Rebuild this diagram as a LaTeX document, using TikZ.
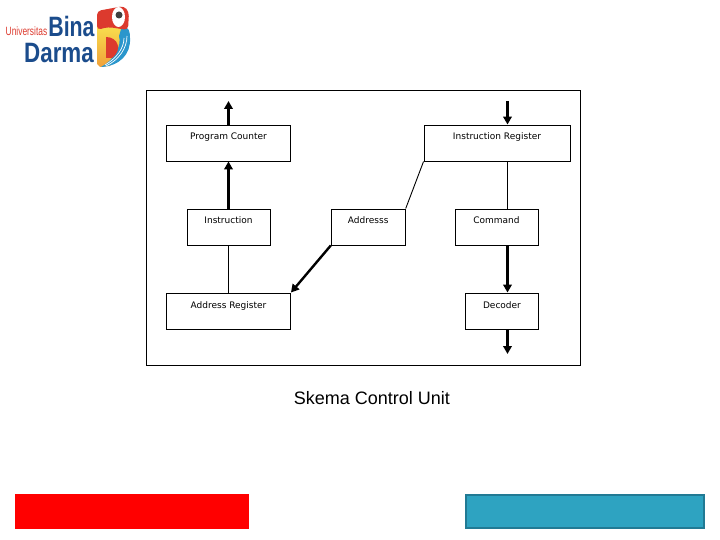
\documentclass[tikz,border=0pt]{standalone}
\usepackage{fontspec}
\setmainfont{DejaVu Sans}
\newfontfamily\capfont{Liberation Sans}
\usetikzlibrary{arrows.meta}
\definecolor{logoblue}{HTML}{1B4C8C}
\definecolor{logored}{HTML}{DC3A2E}
\definecolor{logoyel}{HTML}{F8E04E}
\definecolor{logoorg}{HTML}{F0A03A}
\definecolor{logosky}{HTML}{2A96CC}
\definecolor{barblue}{HTML}{2EA3C1}
\definecolor{barline}{HTML}{217A94}
\tikzset{
  box/.style={draw,line width=.9pt,inner xsep=0pt,inner ysep=0pt,text height=15pt,text depth=21pt,font=\fontsize{9}{10}\selectfont},
  plain line/.style={line width=.9pt},
  flow/.style={line width=2.4pt,-{Triangle[length=8pt,width=8.5pt]}},
  logotext/.style={text=logoblue,inner sep=0pt,font=\capfont\bfseries\fontsize{28}{29}\selectfont},
}
\begin{document}
\begin{tikzpicture}[x=1pt,y=-1pt]
  \useasboundingbox (0,0) rectangle (720,540);
  % logo
  \shade[top color=logoyel,bottom color=logoorg] (97,25) -- (127,25) -- (126,40) -- (110,66) -- (100,67) -- (97,64) -- cycle;
  \fill[logosky] (122,26) .. controls (129,27) and (130,31) .. (130,38) .. controls (131,54) and (120,66) .. (101,67) .. controls (114,60) and (122,46) .. (119,36) -- cycle;
  \draw[white,line width=.7pt] (127,36) .. controls (127,48) and (119,60) .. (106,66);
  \draw[white,line width=.7pt] (124,38) .. controls (124,48) and (117,58) .. (105,65);
  \fill[logored,rounded corners=4pt] (97,30) -- (97,11) -- (124,6) -- (129,12) -- (128,30) -- (108,27) -- cycle;
  \fill[white] (118.5,17) ellipse (6.5pt and 10pt);
  \fill[black!75] (119,15) circle (3.5pt);
  \fill[logored] (106,37) .. controls (118,37) and (123,50) .. (112,58) -- (106,58) -- cycle;
  \node[text=logored,inner sep=0pt,font=\capfont\fontsize{12}{13}\selectfont] (univ) at (26.5,31) {\scalebox{.7}[1]{Universitas}};
  \node[logotext] (bina) at (71.5,26) {\scalebox{.76}[1]{Bina}};
  \node[logotext] (darma) at (59,53) {\scalebox{.8}[1]{Darma}};
  % diagram
  \node[draw,line width=.9pt,minimum width=433.5pt,minimum height=275pt,inner sep=0pt] (frame) at (363.25,228) {};
  \node[box,minimum width=124pt] (pc) at (228.5,143) {Program Counter};
  \node[box,minimum width=146pt] (ir) at (497,143) {Instruction Register};
  \node[box,minimum width=83pt] (instr) at (228.5,227) {Instruction};
  \node[box,minimum width=74pt] (addr) at (368.25,227) {Addresss};
  \node[box,minimum width=83pt] (cmd) at (496.5,227) {Command};
  \node[box,minimum width=124pt] (areg) at (228.5,311) {Address Register};
  \node[box,minimum width=73pt] (dec) at (502,311) {Decoder};
  \coordinate (pcout) at (228.5,101);
  \coordinate (irin) at (507.5,101);
  \coordinate (decout) at (507.5,354);
  \draw[flow] (pc.north) -- (pcout);
  \draw[flow] (instr.north) -- (pc.south);
  \draw[plain line] (instr.south) -- (areg.north);
  \draw[flow] (irin) -- (irin |- ir.north);
  \draw[plain line] (irin |- ir.south) -- (irin |- cmd.north);
  \draw[plain line] (ir.south west) -- (addr.north east);
  \draw[flow] (addr.south west) -- (areg.north east);
  \draw[flow] (irin |- cmd.south) -- (irin |- dec.north);
  \draw[flow] (irin |- dec.south) -- (decout);
  \node[font=\capfont\fontsize{18}{20}\selectfont] (cap) at (372,398) {Skema Control Unit};
  % bars
  \node[fill=red,minimum width=233.5pt,minimum height=35pt,inner sep=0pt] (redbar) at (131.75,511.5) {};
  \node[draw=barline,fill=barblue,line width=2pt,minimum width=238pt,minimum height=33pt,inner sep=0pt] (bluebar) at (584.75,511.5) {};
\end{tikzpicture}
\end{document}
